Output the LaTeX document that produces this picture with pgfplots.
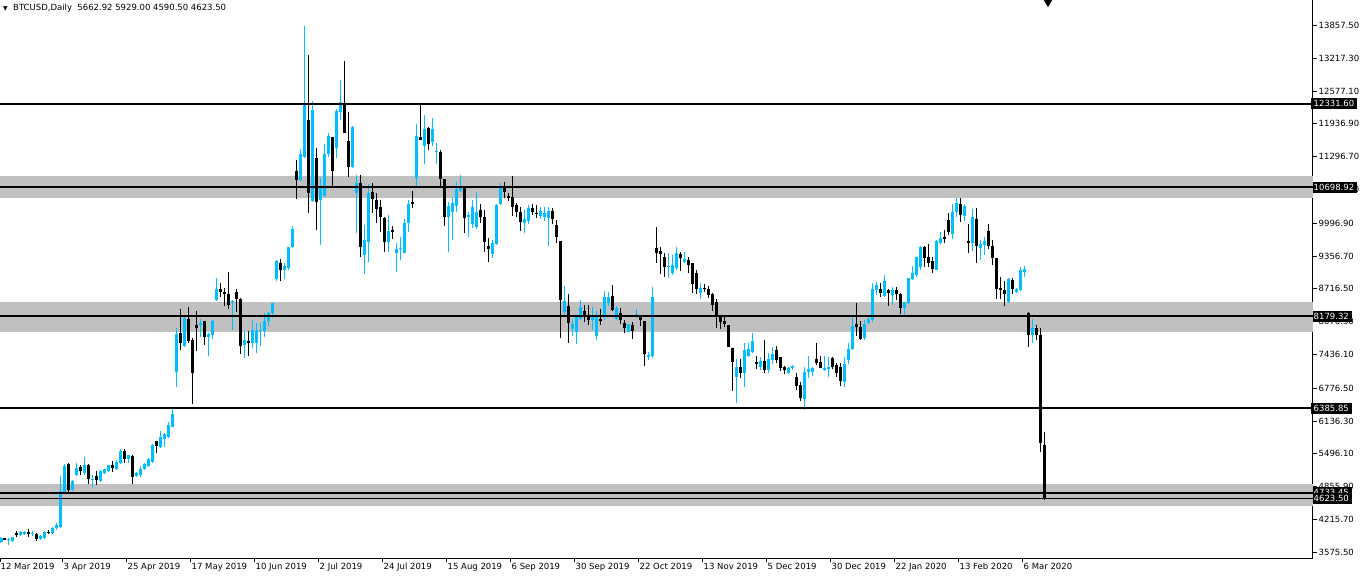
\documentclass[border=0pt]{standalone}
\usepackage{pgfplots}
\pgfplotsset{compat=1.18}
\usepackage{pgfplotstable}
\usepackage{fontspec}
\setmainfont{DejaVu Sans}
\definecolor{bullc}{HTML}{00BFFF}
\definecolor{bandgray}{HTML}{C0C0C0}

\pgfplotstableread{
i o h l c
0 3780 3870 3760 3850
2 3815 3860 3720 3830
3 3800 3875 3795 3870
5 3920 3995 3895 3965
6 3930 3995 3920 3975
8 3950 3985 3900 3960
10 3840 3905 3835 3900
11 3860 3985 3855 3970
13 3958 4070 3955 4055
14 4055 4140 4010 4115
15 4075 5065 4070 4772
16 4760 5305 4740 5260
18 4798 4980 4790 4967
19 5090 5312 5065 5214
21 5117 5442 5084 5280
23 4999 5084 4856 5012
25 4973 5175 4960 5162
26 5123 5210 5110 5195
27 5162 5285 5155 5280
29 5208 5377 5182 5344
30 5325 5600 5300 5559
32 5403 5480 5325 5474
34 5064 5142 5038 5116
35 5084 5260 5052 5207
36 5201 5320 5195 5299
37 5253 5410 5247 5390
38 5344 5690 5330 5670
40 5637 5950 5624 5826
41 5780 5897 5637 5878
42 5832 6125 5800 6060
43 6027 6385 6027 6268
44 7100 7946 6808 7836
46 7601 8207 7575 8141
50 8018 8122 7770 8057
52 7784 7849 7413 7836
53 7816 8109 7738 8089
54 8499 8922 8480 8714
58 8450 8490 7914 8480
61 7621 7894 7374 7718
63 7653 8109 7556 7914
64 7666 8044 7471 7914
65 7895 8044 7601 7920
66 7894 8239 7784 8096
67 8089 8272 8000 8239
68 8239 8447 8141 8434
69 8909 9280 8876 9260
71 9085 9215 8903 9163
72 9118 9541 9085 9528
73 9541 9945 9520 9886
75 10842 11441 10823 11350
76 11298 13848 11265 12325
78 10432 12384 10419 12208
80 10452 10888 9574 10712
81 10536 11538 10517 11350
82 11343 11766 11297 11701
84 11460 12221 11278 12195
85 12176 12794 12013 12371
88 11102 11896 11089 11870
89 10582 10940 9814 10790
91 9378 9964 9007 9671
92 9639 10764 9248 10595
97 9639 10159 9443 9847
99 9411 9606 9053 9502
100 9489 9736 9281 9521
101 9411 10074 9411 10009
102 9996 10452 9834 10368
104 10875 11935 10732 11701
106 11506 12111 11154 11838
108 11590 12046 11506 11838
109 11382 11571 11154 11415
112 10127 10419 9430 10341
113 10211 10516 9671 10387
114 10335 10809 10224 10659
115 10634 10939 10614 10698
117 10113 10224 9723 10158
118 9983 10451 9898 10308
119 9931 10614 9886 10224
123 9397 9670 9313 9605
124 9592 10373 9573 10354
125 10367 10777 10354 10679
131 9996 10256 9814 10080
132 10048 10354 9983 10302
135 10145 10321 10074 10237
136 10126 10321 10048 10191
137 10093 10321 9553 10237
141 8272 8773 8174 8480
143 7933 8122 7803 8031
144 7881 8207 7641 8207
145 8122 8499 8109 8369
148 8109 8369 7914 8174
149 7803 8291 7719 8194
151 8187 8675 8109 8564
152 8447 8662 8389 8564
154 8129 8389 8109 8337
157 7881 8025 7881 8025
159 8187 8317 8155 8220
162 7387 7478 7328 7426
163 7413 8747 7361 8551
167 9150 9410 8922 9170
168 9033 9378 8987 9183
169 9117 9527 9085 9410
171 9248 9443 9215 9300
175 8630 8825 8512 8727
184 7003 7348 6483 7198
186 7068 7654 6808 7524
187 7413 7654 7393 7543
188 7491 7849 7478 7699
190 7198 7393 7133 7309
192 7133 7458 7068 7348
193 7328 7589 7244 7445
197 7081 7198 7055 7166
198 7166 7231 7133 7218
201 6567 7198 6352 7088
202 7088 7406 6971 7146
203 7088 7198 7023 7179
206 7133 7413 7114 7179
207 7146 7393 7003 7198
211 6905 7393 6808 7250
212 7328 7654 7250 7543
213 7537 8174 7524 7992
216 7751 8110 7719 8031
217 8057 8175 8031 8123
218 8110 8825 8077 8714
219 8695 8858 8597 8793
221 8584 8988 8565 8870
223 8597 8747 8402 8695
226 8350 8454 8174 8454
227 8448 8936 8435 8936
228 8903 9163 8890 9020
229 8987 9345 8955 9345
230 9137 9560 9085 9541
234 9085 9671 9085 9651
235 9619 9833 9606 9703
238 9788 10367 9684 10224
239 10224 10484 10126 10386
241 10146 10373 10048 10341
243 9606 10269 9463 10126
245 9521 9671 9281 9586
246 9573 9736 9378 9651
252 8454 8923 8435 8910
254 8663 8740 8650 8714
255 8695 9137 8675 9085
256 9053 9163 8955 9105
258 7810 8125 7667 7950
}\bull

\pgfplotstableread{
i o h l c
1 3845 3850 3810 3820
4 3960 3985 3880 3910
7 3975 4030 3870 3940
9 3935 3945 3800 3835
12 3975 4010 3935 3955
17 5298 5325 4740 4790
20 5246 5272 5084 5155
22 5280 5300 4902 5012
24 5064 5155 4895 4987
28 5280 5350 5150 5214
31 5553 5592 5325 5403
33 5461 5474 4908 5052
39 5754 5754 5520 5656
45 7862 8324 7523 7666
47 8122 8356 7653 7705
48 7718 7751 6469 7081
49 8011 8285 7510 7946
51 8089 8089 7621 7784
55 8714 8825 8564 8649
56 8662 8727 8382 8610
57 8616 9039 8317 8402
59 8649 8714 8272 8519
60 8512 8545 7445 7608
62 7699 7894 7413 7653
70 9215 9300 8876 9085
74 11018 11233 10471 10842
77 12013 13282 10205 10595
79 11265 11460 9866 10419
83 11688 11688 10712 11018
86 12325 13171 11753 11766
87 11603 12176 10894 11102
90 10790 10940 9346 9541
93 10608 10777 10192 10471
94 10452 10582 10009 10276
95 10309 10452 9834 10127
96 10107 10127 9443 9639
98 9860 9945 9684 9821
103 10419 10634 10289 10368
105 11688 12325 11623 11623
107 11863 11883 11428 11545
110 11382 11428 10712 10855
111 10855 10855 9951 10127
116 10679 10712 9801 10106
120 10256 10367 9996 10113
121 10113 10256 9430 9638
122 9553 9716 9235 9495
126 10679 10809 10497 10601
127 10529 10581 10438 10484
128 10503 10919 10139 10321
129 10354 10399 10126 10211
130 10224 10321 9846 10015
133 10302 10367 10158 10224
134 10205 10354 10093 10185
138 10237 10289 9983 10080
139 9963 10061 9605 9736
140 9651 9651 7751 8499
142 8382 8610 7666 8044
146 8285 8402 8076 8174
147 8207 8402 8012 8109
150 8129 8324 8011 8096
153 8578 8792 8291 8304
155 8239 8337 8025 8109
156 8044 8109 7862 7946
158 8011 8077 7738 7901
160 8174 8187 7998 8109
161 8096 8096 7218 7445
164 9508 9918 9228 9423
165 9456 9527 9007 9397
166 9332 9410 8942 9150
170 9397 9443 9072 9313
172 9280 9345 9033 9183
173 9215 9215 8630 8812
174 9020 9085 8610 8708
176 8727 8812 8662 8705
177 8714 8773 8532 8597
178 8617 8630 8291 8402
179 8454 8512 7946 8187
180 8174 8174 7927 8077
181 8090 8207 7966 8031
182 8011 8011 7576 7576
183 7569 7569 6730 7296
185 7198 7341 6971 7081
189 7283 7413 7146 7258
191 7309 7719 7068 7133
194 7524 7602 7263 7328
195 7380 7380 7114 7166
196 7198 7211 7055 7133
199 7003 7068 6743 6827
200 6840 6905 6535 6580
204 7348 7654 7231 7263
205 7296 7413 7166 7179
208 7361 7393 7146 7198
209 7231 7263 7003 7081
210 7198 7263 6827 6925
214 8031 8440 7800 7963
215 7979 8097 7719 7740
220 8714 8825 8565 8643
222 8695 8708 8389 8643
224 8695 8760 8500 8610
225 8610 8630 8227 8350
231 9541 9560 9137 9313
232 9332 9593 9137 9228
233 9261 9332 9033 9098
236 9729 9866 9606 9690
237 10061 10191 9769 9833
240 10373 10484 10015 10159
242 9651 9977 9424 9606
244 10080 10289 9228 9560
247 9847 9977 9489 9554
248 9554 9671 9183 9326
249 9313 9313 8519 8714
250 8727 8942 8513 8695
251 8695 8870 8389 8617
253 8890 8923 8617 8708
257 8245 8265 7590 7810
259 7950 8012 7719 7817
260 7817 7947 5540 5715
261 5662.92 5929 4590.5 4623.5
}\bear

\begin{document}
\begin{tikzpicture}[font=\fontsize{8.5}{10}\selectfont]
\begin{axis}[
  at={(0pt,0pt)}, anchor=north west,
  scale only axis, width=1313pt, height=558pt,
  xmin=-0.25, xmax=328, ymin=3464, ymax=14355,
  axis x line*=bottom, axis y line*=right,
  axis line style={-, black, line width=1pt},
  clip=false,
  tick align=outside, major tick length=4pt,
  tick style={black, line width=1pt},
  xtick={-0.25,15.5,31.5,47.5,63.5,79.5,95.5,111.5,127.5,143.5,159.5,175.5,191.5,207.5,223.5,239.5,255.5},
  xticklabels={12 Mar 2019,3 Apr 2019,25 Apr 2019,17 May 2019,10 Jun 2019,2 Jul 2019,24 Jul 2019,15 Aug 2019,6 Sep 2019,30 Sep 2019,22 Oct 2019,13 Nov 2019,5 Dec 2019,30 Dec 2019,22 Jan 2020,13 Feb 2020,6 Mar 2020},
  xticklabel style={anchor=north west, inner sep=0pt, xshift=0.5pt, yshift=-1pt},
  ytick={13857.5,13217.3,12577.1,11936.9,11296.7,10657.1,9996.9,9356.7,8716.5,8076.3,7436.1,6776.5,6136.3,5496.1,4855.9,4215.7,3575.5},
  yticklabels={13857.50,13217.30,12577.10,11936.90,11296.70,10657.10,9996.90,9356.70,8716.50,8076.30,7436.10,6776.50,6136.30,5496.10,4855.90,4215.70,3575.50},
  yticklabel style={anchor=west, inner sep=0pt, xshift=1.5pt},
  extra y ticks={12331.6,10698.92,8179.32,6385.85,4733.45,4623.5},
  extra y tick labels={12331.60,10698.92,8179.32,6385.85,4733.45,4623.50},
  extra y tick style={major tick length=0pt, yticklabel style={fill=black, text=white, inner xsep=3pt, inner ysep=2.5pt, text height=6.3pt, text depth=0.3pt, xshift=-4pt}},
]
% zones
\addplot[fill=bandgray, draw=none] coordinates {(-0.25,10495) (328,10495) (328,10925) (-0.25,10925)} -- cycle;
\addplot[fill=bandgray, draw=none] coordinates {(-0.25,7880) (328,7880) (328,8465) (-0.25,8465)} -- cycle;
\addplot[fill=bandgray, draw=none] coordinates {(-0.25,4478) (328,4478) (328,4915) (-0.25,4915)} -- cycle;
% wicks
\addplot[draw=none, mark=none, error bars/.cd, y dir=both, y explicit, error mark=none,
  error bar style={draw=bullc, line width=1pt}]
  table[x=i, y=o, y error plus expr=\thisrow{h}-\thisrow{o}, y error minus expr=\thisrow{o}-\thisrow{l}] {\bull};
\addplot[draw=none, mark=none, error bars/.cd, y dir=both, y explicit, error mark=none,
  error bar style={draw=black, line width=1pt}]
  table[x=i, y=o, y error plus expr=\thisrow{h}-\thisrow{o}, y error minus expr=\thisrow{o}-\thisrow{l}] {\bear};
% bodies
\addplot[draw=none, mark=none, error bars/.cd, y dir=both, y explicit, error mark=none,
  error bar style={draw=bullc, line width=3pt}]
  table[x=i, y=o, y error plus expr=\thisrow{c}-\thisrow{o}, y error minus expr=0] {\bull};
\addplot[draw=none, mark=none, error bars/.cd, y dir=both, y explicit, error mark=none,
  error bar style={draw=black, line width=3pt}]
  table[x=i, y=c, y error plus expr=\thisrow{o}-\thisrow{c}, y error minus expr=0] {\bear};
% levels
\addplot[black, line width=2pt] coordinates {(-0.25,12331.6) (328,12331.6)};
\addplot[black, line width=2pt] coordinates {(-0.25,10698.92) (328,10698.92)};
\addplot[black, line width=2pt] coordinates {(-0.25,8179.32) (328,8179.32)};
\addplot[black, line width=2pt] coordinates {(-0.25,6385.85) (328,6385.85)};
\addplot[black, line width=2pt] coordinates {(-0.25,4733.45) (328,4733.45)};
\addplot[black, line width=1pt] coordinates {(-0.25,4623.5) (328,4623.5)};
% chart shift marker
\addplot[only marks, mark=triangle*, mark size=4.5pt, mark options={rotate=180, fill=black, draw=black}] coordinates {(261.75,14311)};
\node[anchor=west, inner sep=0pt] at ([xshift=3pt,yshift=-8pt]rel axis cs:0,1) {{\fontsize{6}{6}\selectfont ▼}\ \ BTCUSD,Daily\ \ 5662.92 5929.00 4590.50 4623.50};
\end{axis}
\pgfresetboundingbox
\useasboundingbox (0pt,0pt) rectangle (1361pt,-578pt);
\end{tikzpicture}
\end{document}
